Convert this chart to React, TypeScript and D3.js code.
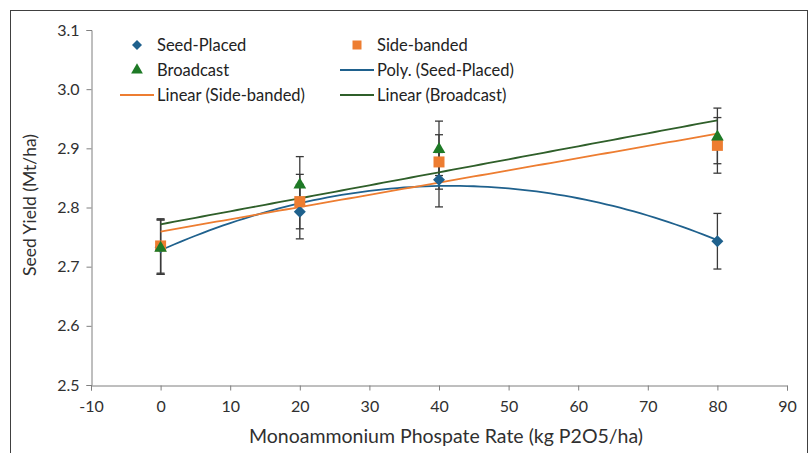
import React, { useRef, useEffect } from 'react';
import * as d3 from 'd3';

// MAP rates (kg P2O5/ha)
const rates = [0, 20, 40, 80];
// seed yield per placement (Mt/ha)
const seedPlaced = [2.733, 2.793, 2.847, 2.743];
const sideBanded = [2.735, 2.81, 2.877, 2.905];
const broadcast = [2.733, 2.84, 2.9, 2.921];
// error bar half-width
const errs = [0.046, 0.046, 0.046, 0.047];

const xTicks = [-10, 0, 10, 20, 30, 40, 50, 60, 70, 80, 90];
const yTicks = [2.5, 2.6, 2.7, 2.8, 2.9, 3.0, 3.1];

const BLUE = '#1f618d';
const ORANGE = '#ed7d31';
const GREEN = '#1e7a26';
const DKGREEN = '#2f5f2a';
const FONT = 'Lato, "Open Sans", sans-serif';

// least squares linear fit
const linFit = (xs: number[], ys: number[]) => {
  const mx = d3.mean(xs)!;
  const my = d3.mean(ys)!;
  const sxy = d3.sum(xs, (x, i) => (x - mx) * (ys[i] - my));
  const sxx = d3.sum(xs, x => (x - mx) ** 2);
  const b = sxy / sxx;
  return (x: number) => my - b * mx + b * x;
};

// least squares quadratic fit (normal equations, cramer)
const polyFit = (xs: number[], ys: number[]) => {
  const s = (p: number) => d3.sum(xs, x => x ** p);
  const t = (p: number) => d3.sum(xs, (x, i) => x ** p * ys[i]);
  const A = [
    [s(0), s(1), s(2)],
    [s(1), s(2), s(3)],
    [s(2), s(3), s(4)],
  ];
  const B = [t(0), t(1), t(2)];
  const det = (m: number[][]) =>
    m[0][0] * (m[1][1] * m[2][2] - m[1][2] * m[2][1]) -
    m[0][1] * (m[1][0] * m[2][2] - m[1][2] * m[2][0]) +
    m[0][2] * (m[1][0] * m[2][1] - m[1][1] * m[2][0]);
  const D = det(A);
  const c = [0, 1, 2].map(k => det(A.map((row, i) => row.map((v, j) => (j === k ? B[i] : v)))) / D);
  return (x: number) => c[0] + c[1] * x + c[2] * x * x;
};

// diamond = square turned 45deg
const marker = (kind: string, size: number) => {
  if (kind === 'diamond') return d3.symbol().type(d3.symbolSquare).size(size)()!;
  if (kind === 'square') return d3.symbol().type(d3.symbolSquare).size(size)()!;
  return d3.symbol().type(d3.symbolTriangle).size(size)()!;
};

const App = () => {
  const svgRef = useRef<SVGSVGElement>(null);

  useEffect(() => {
    const svg = d3.select(svgRef.current);
    svg.selectAll('*').remove();

    const x = d3.scaleLinear().domain([-10, 90]).range([91, 787]);
    const y = d3.scaleLinear().domain([2.5, 3.1]).range([385, 30]);

    // outer border
    svg.append('rect')
      .attr('x', 10.5).attr('y', 10.5)
      .attr('width', 797).attr('height', 460)
      .attr('fill', 'white').attr('stroke', '#404040').attr('stroke-width', 1);

    // axes
    const yAxis = svg.append('g')
      .attr('transform', 'translate(91.5,0)')
      .call(d3.axisLeft(y).tickValues(yTicks).tickSize(5).tickPadding(7).tickFormat(d3.format('.1f')));
    const xAxis = svg.append('g')
      .attr('transform', 'translate(0,385.5)')
      .call(d3.axisBottom(x).tickValues(xTicks).tickSize(5).tickPadding(10).tickFormat(d => String(d)));
    [xAxis, yAxis].forEach(g => {
      g.select('.domain').attr('stroke', '#7f7f7f');
      g.selectAll('.tick line').attr('stroke', '#7f7f7f');
      g.selectAll('.tick text')
        .attr('fill', '#303030')
        .style('font-family', FONT)
        .style('font-size', '16px');
    });

    svg.append('text')
      .attr('x', 446).attr('y', 443)
      .attr('text-anchor', 'middle')
      .attr('fill', '#303030')
      .style('font-family', FONT).style('font-size', '19.5px')
      .text('Monoammonium Phospate Rate (kg P2O5/ha)');
    svg.append('text')
      .attr('transform', 'translate(36,205) rotate(-90)')
      .attr('text-anchor', 'middle')
      .attr('fill', '#303030')
      .style('font-family', FONT).style('font-size', '17.5px')
      .text('Seed Yield (Mt/ha)');

    const series = [
      { name: 'Seed-Placed', vals: seedPlaced, color: BLUE, kind: 'diamond', size: 72 },
      { name: 'Side-banded', vals: sideBanded, color: ORANGE, kind: 'square', size: 121 },
      { name: 'Broadcast', vals: broadcast, color: GREEN, kind: 'triangle', size: 70 },
    ];

    // error bars
    const eb = svg.append('g').attr('stroke', '#3a3a3a').attr('stroke-width', 1.3);
    series.forEach(s => {
      s.vals.forEach((v, i) => {
        const cx = x(rates[i]);
        eb.append('line').attr('x1', cx).attr('x2', cx).attr('y1', y(v - errs[i])).attr('y2', y(v + errs[i]));
        [v - errs[i], v + errs[i]].forEach(e => {
          eb.append('line').attr('x1', cx - 4).attr('x2', cx + 4).attr('y1', y(e)).attr('y2', y(e));
        });
      });
    });

    // trendlines
    const xs = d3.range(0, 80.5, 1);
    const trends = [
      { f: polyFit(rates, seedPlaced), color: BLUE },
      { f: linFit(rates, sideBanded), color: ORANGE },
      { f: linFit(rates, broadcast), color: DKGREEN },
    ];
    const line = d3.line<number>();
    trends.forEach(t => {
      svg.append('path')
        .attr('d', line(xs.map(v => [x(v), y(t.f(v))]))!)
        .attr('fill', 'none').attr('stroke', t.color).attr('stroke-width', 1.8);
    });

    // markers (broadcast on top)
    series.forEach(s => {
      svg.append('g').selectAll('path')
        .data(s.vals)
        .enter()
        .append('path')
        .attr('d', marker(s.kind, s.size))
        .attr('transform', (d, i) =>
          `translate(${x(rates[i])},${y(d) + (s.kind === 'triangle' ? 1 : 0)})` +
          (s.kind === 'diamond' ? ' rotate(45)' : ''))
        .attr('fill', s.color);
    });

    // legend
    const lg = svg.append('g').style('font-family', FONT).style('font-size', '16.5px').attr('fill', '#222');
    const items = [
      { label: 'Seed-Placed', lx: 137, ty: 45, tx: 157, kind: 'diamond', size: 50, color: BLUE },
      { label: 'Side-banded', lx: 357, ty: 45, tx: 377, kind: 'square', size: 81, color: ORANGE },
      { label: 'Broadcast', lx: 137, ty: 70, tx: 157, kind: 'triangle', size: 60, color: GREEN },
      { label: 'Poly. (Seed-Placed)', lx: 357, ty: 70, tx: 377, line: true, color: BLUE },
      { label: 'Linear (Side-banded)', lx: 137, ty: 95, tx: 157, line: true, color: ORANGE },
      { label: 'Linear (Broadcast)', lx: 357, ty: 95, tx: 377, line: true, color: DKGREEN },
    ];
    items.forEach(it => {
      if (it.line) {
        lg.append('line').attr('x1', it.lx - 17).attr('x2', it.lx + 17)
          .attr('y1', it.ty).attr('y2', it.ty)
          .attr('stroke', it.color).attr('stroke-width', 1.8);
      } else {
        lg.append('path')
          .attr('d', marker(it.kind!, it.size!))
          .attr('transform', `translate(${it.lx},${it.ty})` + (it.kind === 'diamond' ? ' rotate(45)' : ''))
          .attr('fill', it.color);
      }
      lg.append('text').attr('x', it.tx).attr('y', it.ty).attr('dy', '0.35em').text(it.label);
    });
  }, []);

  return (
    <div style={{ position: 'absolute', left: 0, top: 0 }}>
      <svg ref={svgRef} width="812" height="453" style={{ display: 'block' }}></svg>
    </div>
  );
};

export default App;
